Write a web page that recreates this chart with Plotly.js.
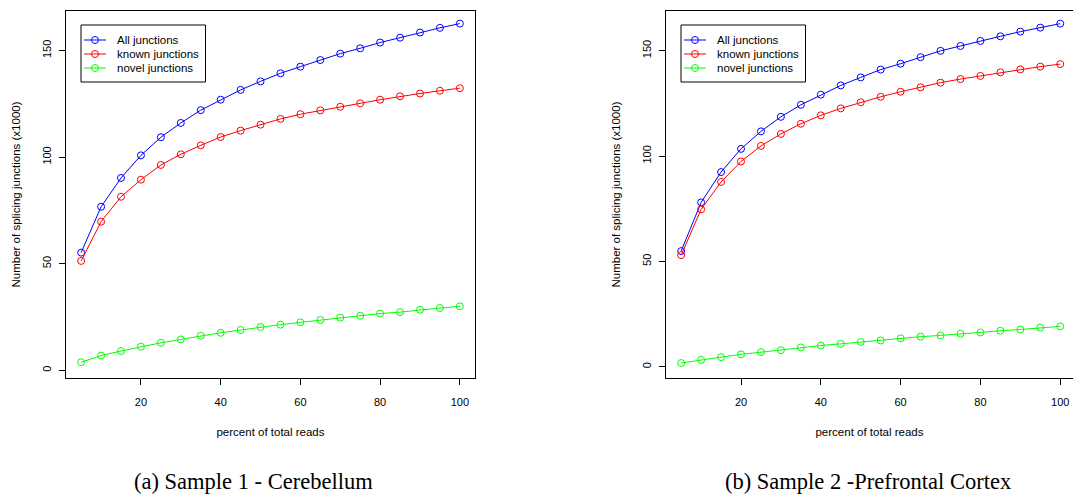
<!DOCTYPE html>
<html>
<head>
<meta charset="utf-8">
<script src="https://cdn.plot.ly/plotly-3.0.1.min.js"></script>
<style>
  html, body { margin: 0; padding: 0; background: #fff; }
  #chart { width: 1073px; height: 495px; }
</style>
</head>
<body>
<div id="chart"></div>
<script>
// Subsampling percentages of total reads
const percentReads = [5, 10, 15, 20, 25, 30, 35, 40, 45, 50, 55, 60, 65, 70, 75, 80, 85, 90, 95, 100];

// Sample 1 - Cerebellum (junction counts, x1000)
const s1All   = [55.2, 76.7, 90.2, 100.8, 109.3, 116.0, 122.0, 126.9, 131.5, 135.5, 139.3, 142.4, 145.5, 148.5, 151.0, 153.7, 156.0, 158.4, 160.6, 162.6];
const s1Known = [51.3, 69.7, 81.4, 89.4, 96.3, 101.3, 105.5, 109.4, 112.4, 115.2, 117.9, 120.1, 121.9, 123.6, 125.2, 126.9, 128.5, 129.8, 131.1, 132.3];
const s1Novel = [3.8, 6.9, 9.05, 11.1, 12.9, 14.5, 16.2, 17.6, 18.9, 20.3, 21.4, 22.5, 23.6, 24.7, 25.6, 26.6, 27.3, 28.4, 29.2, 30.0];

// Sample 2 - Prefrontal Cortex (junction counts, x1000)
const s2All   = [54.9, 78.0, 92.4, 103.4, 111.7, 118.6, 124.3, 129.1, 133.5, 137.3, 141.0, 143.8, 146.9, 149.9, 152.2, 154.6, 156.8, 159.0, 160.9, 162.8];
const s2Known = [53.0, 74.7, 87.7, 97.4, 104.8, 110.5, 115.3, 119.3, 122.6, 125.5, 128.1, 130.5, 132.6, 134.8, 136.5, 138.0, 139.7, 141.1, 142.4, 143.6];
const s2Novel = [1.8, 3.3, 4.6, 5.9, 7.0, 7.9, 9.2, 10.1, 10.9, 11.8, 12.5, 13.5, 14.3, 14.9, 15.7, 16.3, 17.1, 17.7, 18.6, 19.2];

const seriesNames = ['All junctions', 'known junctions', 'novel junctions'];
const seriesColors = ['#0000ff', '#ff0000', '#00ff00'];
const xTicks = [20, 40, 60, 80, 100];
const yTicks = [0, 50, 100, 150];
const panelCaptions = ['(a) Sample 1 - Cerebellum', '(b) Sample 2 -Prefrontal Cortex'];
const xTitle = 'percent of total reads';
const yTitle = 'Number of splicing junctions (x1000)';

const W = 1073, H = 495;
const sans = 'Liberation Sans, Arial, sans-serif';
const serif = 'Liberation Serif, Times New Roman, serif';

function makeTraces(series, xa, ya) {
  return series.map((vals, i) => ({
    x: percentReads, y: vals, xaxis: xa, yaxis: ya,
    type: 'scatter', mode: 'lines+markers', name: seriesNames[i],
    showlegend: false,
    line: { color: seriesColors[i], width: 1 },
    marker: { symbol: 'circle-open', size: 7, color: seriesColors[i], line: { width: 1, color: seriesColors[i] } }
  }));
}

const data = [
  ...makeTraces([s1All, s1Known, s1Novel], 'x', 'y'),
  ...makeTraces([s2All, s2Known, s2Novel], 'x2', 'y2')
];

const yDom = [1 - 378 / H, 1 - 11 / H];

function xAxis(domain, range, mirror) {
  return {
    domain: domain, range: range, tickvals: xTicks, ticks: 'outside', ticklen: 6,
    tickcolor: '#000', showline: true, linecolor: '#000', linewidth: 1, mirror: mirror,
    showgrid: false, zeroline: false, ticklabelstandoff: 8,
    tickfont: { family: sans, size: 11, color: '#000' },
    title: { text: xTitle, font: { family: sans, size: 11.5, color: '#000' }, standoff: 20 }
  };
}
function yAxis(domain, range, anchor, mirror) {
  return {
    domain: domain, range: range, anchor: anchor, tickvals: yTicks, ticks: 'outside', ticklen: 6,
    tickcolor: '#000', showline: true, linecolor: '#000', linewidth: 1, mirror: mirror,
    showgrid: false, zeroline: false, tickangle: -90, ticklabelstandoff: 4,
    tickfont: { family: sans, size: 11, color: '#000' },
    title: { text: yTitle, font: { family: sans, size: 11.5, color: '#000' }, standoff: 17 }
  };
}

// Boxed legend drawn in paper space: frame, line sample with open circle, label
const shapes = [];
const annotations = [];
function addLegend(left) {
  const top = 25, bottom = 82, right = left + 124.5;
  shapes.push({ type: 'rect', xref: 'paper', yref: 'paper',
    x0: left / W, x1: right / W, y0: 1 - bottom / H, y1: 1 - top / H,
    line: { color: '#000', width: 1 }, fillcolor: '#fff', layer: 'above' });
  seriesNames.forEach((name, i) => {
    const cy = 1 - (40 + 14 * i) / H;
    shapes.push({ type: 'line', xref: 'paper', yref: 'paper',
      x0: (left + 3) / W, x1: (left + 25) / W, y0: cy, y1: cy,
      line: { color: seriesColors[i], width: 1 }, layer: 'above' });
    shapes.push({ type: 'circle', xref: 'paper', yref: 'paper',
      xsizemode: 'pixel', ysizemode: 'pixel', xanchor: (left + 14) / W, yanchor: cy,
      x0: -3.5, x1: 3.5, y0: -3.5, y1: 3.5,
      line: { color: seriesColors[i], width: 1 }, fillcolor: 'rgba(0,0,0,0)', layer: 'above' });
    annotations.push({ text: name, xref: 'paper', yref: 'paper', x: (left + 34) / W, y: cy,
      xanchor: 'left', yanchor: 'middle', showarrow: false,
      font: { family: sans, size: 11.5, color: '#000' } });
  });
}
addLegend(81);
addLegend(681);

[[panelCaptions[0], 253], [panelCaptions[1], 868]].forEach(([t, cx]) => {
  annotations.push({ text: t, x: cx / W, y: 1 - 481 / H, xref: 'paper', yref: 'paper',
    showarrow: false, xanchor: 'center', yanchor: 'middle',
    font: { family: serif, size: 22.5, color: '#000' } });
});

const layout = {
  width: W, height: H,
  margin: { l: 0, r: 0, t: 0, b: 0 },
  paper_bgcolor: '#fff', plot_bgcolor: '#fff',
  showlegend: false,
  xaxis: xAxis([66 / W, 475 / W], [1.2, 103.8], true),
  yaxis: yAxis(yDom, [-3.6, 168.5], 'x', true),
  xaxis2: xAxis([666 / W, 1], [1.2, 1.2 + (1073 - 666) / 3.99], true),
  yaxis2: yAxis(yDom, [-5.3, 168.8], 'x2', false),
  shapes: shapes,
  annotations: annotations
};

Plotly.newPlot('chart', data, layout, { displayModeBar: false, staticPlot: true });
</script>
</body>
</html>
